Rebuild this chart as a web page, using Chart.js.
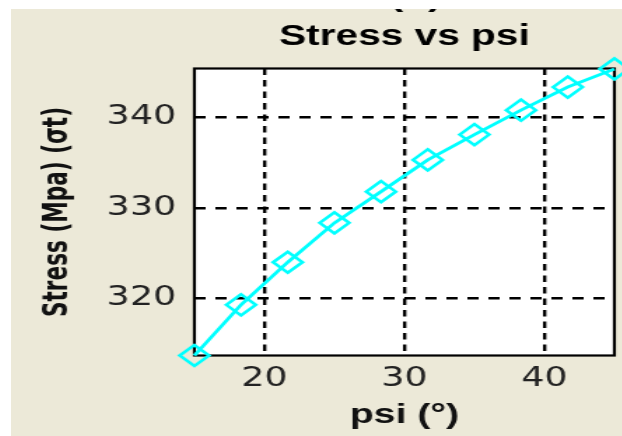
<!DOCTYPE html>
<html>
<head>
<meta charset="utf-8">
<script src="https://cdn.jsdelivr.net/npm/chart.js@4"></script>
<style>
    html, body { margin: 0; padding: 0; background: #fff; }
    #wrap { position: absolute; left: 11px; top: 9px; width: 611px; height: 427px; overflow: hidden; background: #ece9d8; }
    /* the reference picture is stretched sideways, so the canvas is too */
    #chart { position: absolute; left: 0; top: -31px; transform: scaleX(1.4); transform-origin: 0 0; }
</style>
</head>
<body>
<div id="wrap"><canvas id="chart" width="437" height="458"></canvas></div>
<script>
const psi = [15, 18.33, 21.67, 25, 28.33, 31.67, 35, 38.33, 41.67, 45];
const stress = [313.7, 319.3, 324.0, 328.35, 331.8, 335.3, 338.1, 340.8, 343.35, 345.35];
const xTicks = [20, 30, 40];
const yTicks = [320, 330, 340];

document.addEventListener("DOMContentLoaded", () => {
    // white plot area + black box round it (Chart.js only draws two sides)
    const plotBox = {
        id: 'plotBox',
        beforeDraw(chart) {
            const { ctx, chartArea: a } = chart;
            ctx.save();
            ctx.fillStyle = '#fff';
            ctx.fillRect(a.left, a.top, a.width, a.height);
            ctx.restore();
        },
        beforeDatasetsDraw(chart) {
            const { ctx, chartArea: a } = chart;
            ctx.save();
            ctx.strokeStyle = '#000';
            ctx.lineWidth = 2.2;
            ctx.strokeRect(a.left, a.top, a.width, a.height);
            ctx.restore();
        }
    };

    const tickFont = { family: "'DejaVu Sans', sans-serif", size: 26, lineHeight: 1.2 };

    const ctx = document.getElementById('chart').getContext('2d');
    new Chart(ctx, {
        type: 'line',
        data: {
            datasets: [{
                data: psi.map((x, i) => ({ x: x, y: stress[i] })),
                borderColor: '#00ffff',
                borderWidth: 2.8,
                pointStyle: 'rectRot',
                pointRadius: 10.5,
                pointBorderWidth: 2.6,
                pointBorderColor: '#00ffff',
                pointBackgroundColor: 'rgba(255,255,255,0)',
                tension: 0,
                clip: false
            }]
        },
        options: {
            responsive: false,
            animation: false,
            layout: { autoPadding: false, padding: { left: 0, right: 6, top: 0, bottom: 0 } },
            plugins: {
                legend: { display: false },
                tooltip: { enabled: false },
                title: {
                    display: true,
                    fullSize: false,
                    text: ['  (b)', 'Stress vs psi'],
                    color: '#000',
                    font: { family: "'Liberation Sans', Arial, sans-serif", size: 29, weight: 'bold', lineHeight: '39px' },
                    padding: { top: 0, bottom: 12.5 }
                }
            },
            scales: {
                x: {
                    type: 'linear',
                    min: 15,
                    max: 45,
                    afterBuildTicks: s => { s.ticks = xTicks.map(v => ({ value: v })); },
                    afterFit: s => { s.height = 80.5; },
                    grid: { color: '#000', lineWidth: 2.4, drawTicks: false },
                    border: { display: false, dash: [6.5, 5] },
                    ticks: { padding: 8, color: '#222', maxRotation: 0, font: tickFont },
                    title: {
                        display: true,
                        text: 'psi (°)',
                        color: '#111',
                        font: { family: "'Liberation Sans', Arial, sans-serif", size: 28, weight: 'bold', lineHeight: 1.2 },
                        padding: { top: 0, bottom: 4 }
                    }
                },
                y: {
                    type: 'linear',
                    min: 313.7,
                    max: 345.4,
                    afterBuildTicks: s => { s.ticks = yTicks.map(v => ({ value: v })); },
                    afterFit: s => { s.width = 131; },
                    grid: { color: '#000', lineWidth: 2.4, drawTicks: false },
                    border: { display: false, dash: [8, 7] },
                    ticks: { padding: 13, color: '#222', font: tickFont },
                    title: {
                        display: true,
                        text: 'Stress (Mpa) (σt)',
                        color: '#111',
                        font: { family: "'Liberation Sans Narrow', 'DejaVu Sans Condensed', 'Arial Narrow', sans-serif", size: 24, weight: 'bold', lineHeight: 1.2 },
                        padding: { top: 19, bottom: 0 }
                    }
                }
            }
        },
        plugins: [plotBox]
    });
});
</script>
</body>
</html>
